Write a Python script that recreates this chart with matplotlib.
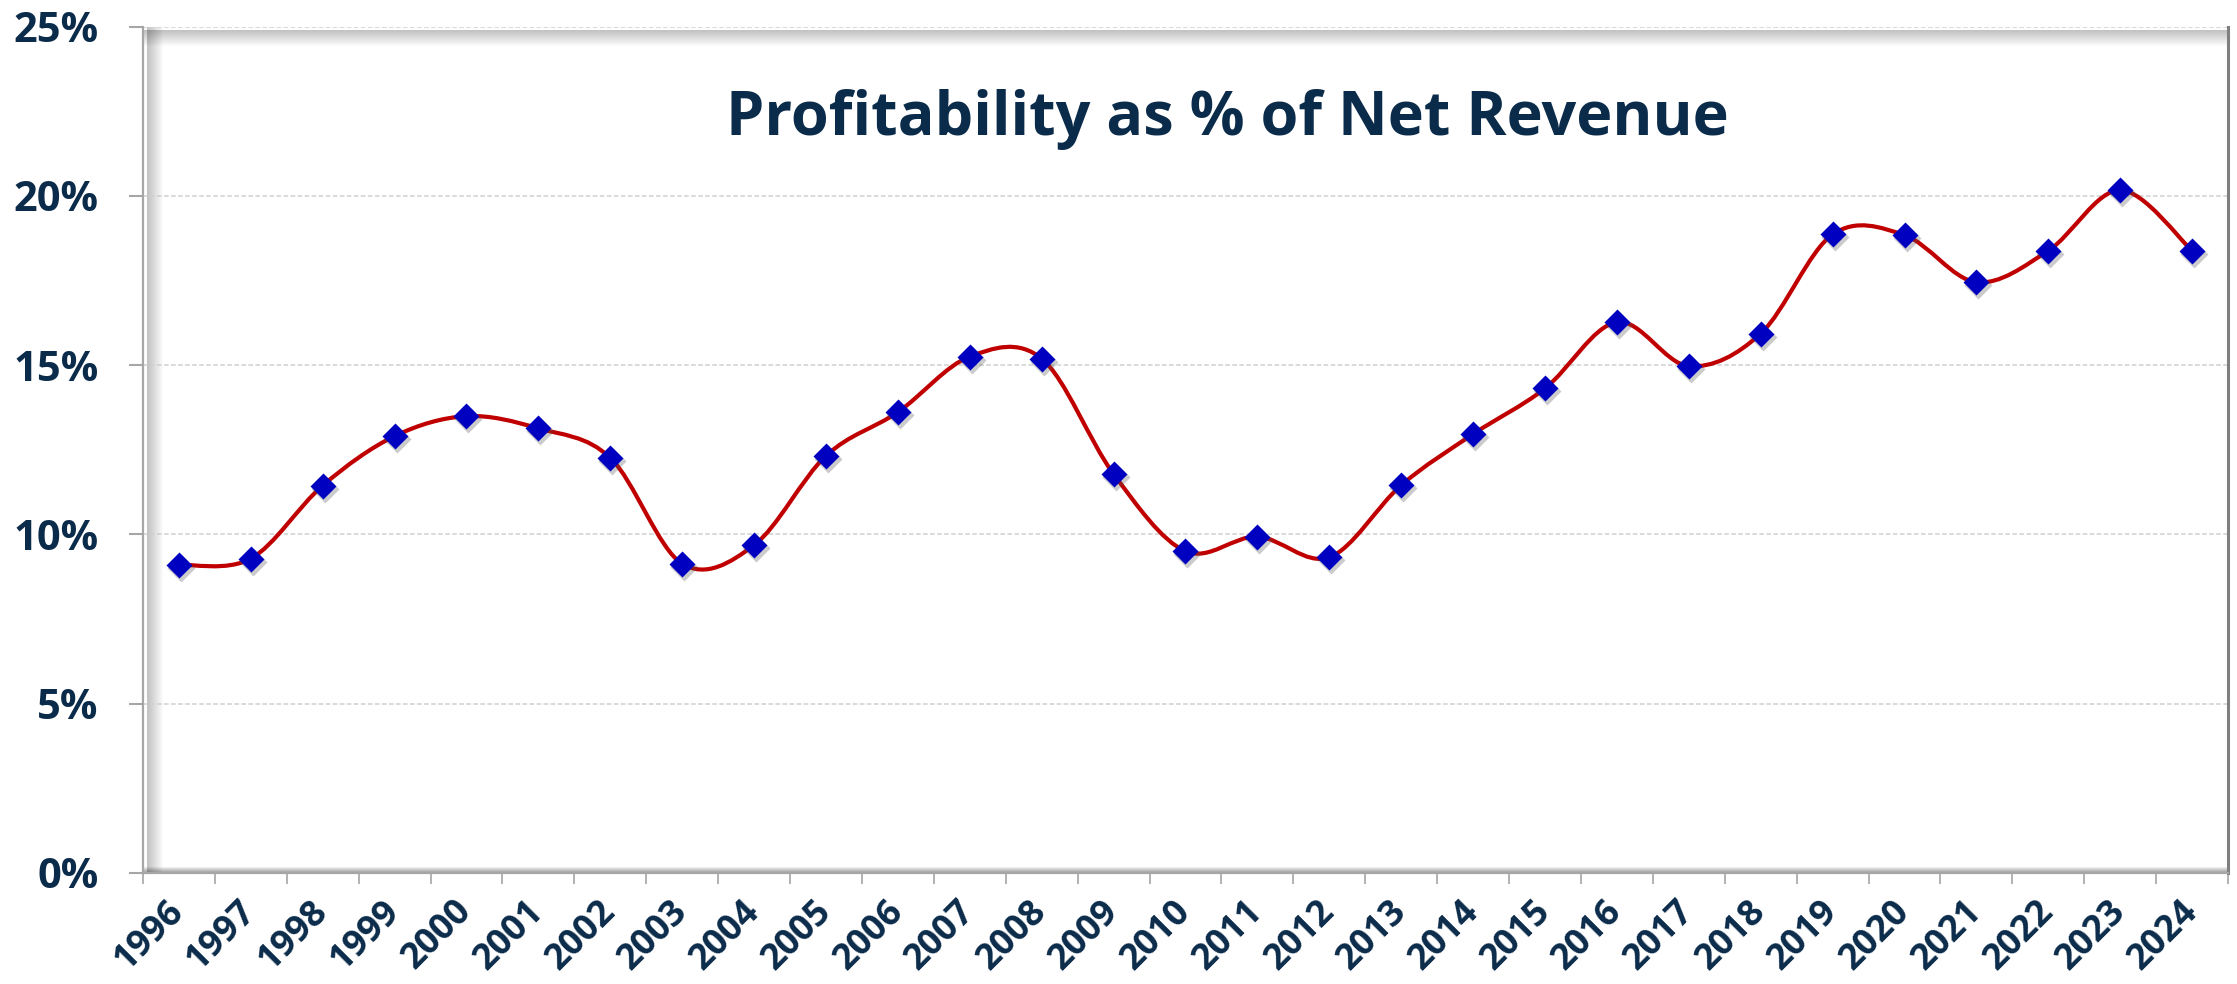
import numpy as np
import matplotlib
matplotlib.use("Agg")
from matplotlib import pyplot as plt
from matplotlib.path import Path
from matplotlib.patches import PathPatch
from matplotlib import transforms


years = [str(y) for y in range(1996, 2025)]
profit_pct = [9.10, 9.28, 11.44, 12.90, 13.49, 13.13, 12.26, 9.13, 9.68, 12.32,
			13.61, 15.25, 15.19, 11.78, 9.50, 9.93, 9.32, 11.45, 12.96, 14.31,
			16.27, 14.97, 15.93, 18.86, 18.84, 17.45, 18.38, 20.17, 18.38]
y_ticks = [0, 5, 10, 15, 20, 25]
title = "Profitability as % of Net Revenue"

text_col = "#0B2B4A"
axis_col = "#A6A6A6"
font = "Open Sans"


def smooth_path(xs, ys):
	# Excel style smoothed line: Catmull-Rom as cubic beziers
	pts = np.column_stack([xs, ys]).astype(float)
	ext = np.vstack([pts[0], pts, pts[-1]])
	verts = [pts[0]]
	codes = [Path.MOVETO]
	for i in range(len(pts) - 1):
		p0, p1, p2, p3 = ext[i], ext[i+1], ext[i+2], ext[i+3]
		verts += [p1 + (p2 - p0) / 6, p2 - (p3 - p1) / 6, p2]
		codes += [Path.CURVE4] * 3
	return Path(verts, codes)


def inner_shadow(fig, ax):
	# soft bevel on the inside of the plot area
	n = 16
	for k in range(n):
		a = 0.22 * (1 - k / n)
		top = transforms.offset_copy(ax.transAxes, fig, x=0, y=-(k + 3), units="dots")
		ax.plot([0, 1], [1, 1], color="black", alpha=a, lw=0.8, transform=top, clip_on=False, zorder=1)
		left = transforms.offset_copy(ax.transAxes, fig, x=k + 4, y=0, units="dots")
		ax.plot([0, 0], [0, 1], color="black", alpha=a, lw=0.8, transform=left, clip_on=False, zorder=1)
	for k in range(5):
		a = 0.3 * (1 - k / 5)
		bot = transforms.offset_copy(ax.transAxes, fig, x=0, y=k + 2, units="dots")
		ax.plot([0, 1], [0, 0], color="black", alpha=a, lw=0.8, transform=bot, clip_on=False, zorder=1)


def main():
	fig = plt.figure(figsize=(22.37, 9.84), dpi=100)
	ax = fig.add_axes([0.0639, 0.1131, 0.9321, 0.8598])

	x = np.arange(len(years))
	ax.set_xlim(-0.5, len(years) - 0.5)
	ax.set_ylim(0, 25)

	for v in y_ticks[1:]:
		ax.axhline(v, color="#CFCFCF", lw=1.1, ls=(0, (3, 1.6)), zorder=2)

	inner_shadow(fig, ax)

	ax.add_patch(PathPatch(smooth_path(x, profit_pct), fill=False, edgecolor="#C00000", lw=3.0, zorder=4, capstyle="round"))

	shadow = transforms.offset_copy(ax.transData, fig, x=2, y=-3, units="dots")
	ax.plot(x, profit_pct, ls="none", marker="D", ms=14, color="#555555", alpha=0.3, mec="none", transform=shadow, zorder=5)
	ax.plot(x, profit_pct, ls="none", marker="D", ms=13, color="#0000C0", mec="none", zorder=6)

	ax.set_yticks(y_ticks)
	ax.set_yticklabels([str(v) + "%" for v in y_ticks], fontsize=30, fontweight="bold", color=text_col, family=font)
	ax.set_xticks(x)
	ax.set_xticklabels(years, rotation=45, ha="right", va="center", rotation_mode="anchor", fontsize=26, fontweight="bold", color=text_col, family=font)
	ax.tick_params(axis="x", length=0, pad=24)
	ax.set_xticks(np.arange(len(years) + 1) - 0.5, minor=True)
	ax.tick_params(axis="x", which="minor", length=8, width=1.2, color=axis_col)
	ax.tick_params(axis="y", length=10, width=1.5, color=axis_col, pad=22)

	ax.spines["top"].set_visible(False)
	ax.spines["left"].set_color(axis_col)
	ax.spines["left"].set_linewidth(1.6)
	ax.spines["bottom"].set_color(axis_col)
	ax.spines["bottom"].set_linewidth(1.6)
	ax.spines["right"].set_color("#7F7F7F")
	ax.spines["right"].set_linewidth(2.2)

	fig.text(0.5485, 1 - 135 / 984, title, ha="center", va="baseline", fontsize=44, fontweight="bold", color=text_col, family=font)

	fig.savefig("out.png", dpi=100, facecolor="white")


if __name__ == "__main__":
	main()
